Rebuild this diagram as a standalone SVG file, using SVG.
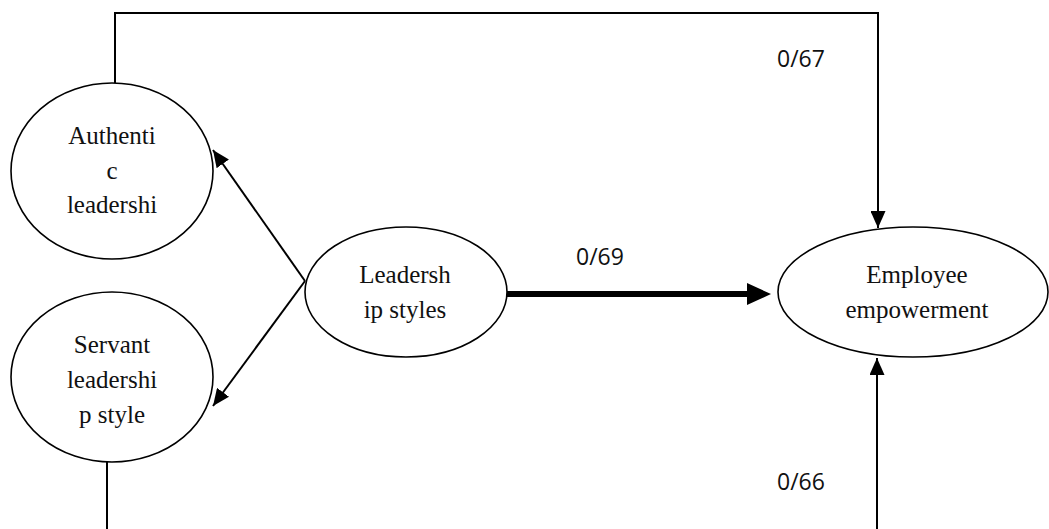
<svg xmlns="http://www.w3.org/2000/svg" width="1049" height="529" viewBox="0 0 1049 529">
  <style>
    .node ellipse { fill: #ffffff; stroke: #000000; stroke-width: 1.6; }
    .node text { font-family: "Liberation Serif", "Times New Roman", serif; font-size: 25px; fill: #111111; text-anchor: middle; }
    .link { fill: none; stroke: #000000; stroke-width: 2; }
    .link.bold { stroke-width: 6; }
    .weight { font-family: "Open Sans", "Liberation Sans", sans-serif; font-size: 23px; fill: #111111; }
  </style>
  <defs>
    <marker id="head" markerUnits="userSpaceOnUse" markerWidth="17" markerHeight="15" refX="17" refY="7.5" orient="auto">
      <path d="M0,0 L17,7.5 L0,15 Z" fill="#000000"/>
    </marker>
    <marker id="head-bold" markerUnits="userSpaceOnUse" markerWidth="24" markerHeight="24" refX="2" refY="12" orient="auto">
      <path d="M0,1 L24,12 L0,23 Z" fill="#000000"/>
    </marker>
  </defs>

  <g id="connectors">
    <!-- Authentic leadership -> Employee empowerment (over the top) -->
    <polyline class="link" points="115,83 115,13 878,13 878,228" marker-end="url(#head)"/>
    <!-- Servant leadership -> Employee empowerment (along the bottom) -->
    <line class="link" x1="107" y1="462" x2="107" y2="529"/>
    <polyline class="link" points="877,529 877,358" marker-end="url(#head)"/>
    <!-- Leadership styles -> its two dimensions -->
    <line class="link" x1="305" y1="281" x2="213" y2="150" marker-end="url(#head)"/>
    <line class="link" x1="305" y1="281" x2="213" y2="406" marker-end="url(#head)"/>
    <!-- Leadership styles -> Employee empowerment -->
    <line class="link bold" x1="507" y1="294" x2="749" y2="294" marker-end="url(#head-bold)"/>
    <text class="weight" x="777" y="67">0/67</text>
    <text class="weight" x="576" y="265">0/69</text>
    <text class="weight" x="777" y="490">0/66</text>
  </g>

  <g id="authentic" class="node">
    <ellipse cx="112" cy="171" rx="101" ry="88"/>
    <text x="112" y="144">Authenti</text>
    <text x="112" y="179">c</text>
    <text x="112" y="213">leadershi</text>
  </g>

  <g id="servant" class="node">
    <ellipse cx="112" cy="377" rx="101" ry="85"/>
    <text x="112" y="353">Servant</text>
    <text x="112" y="388">leadershi</text>
    <text x="112" y="423">p style</text>
  </g>

  <g id="leadership" class="node">
    <ellipse cx="406" cy="292" rx="101" ry="65"/>
    <text x="405" y="283">Leadersh</text>
    <text x="405" y="318">ip styles</text>
  </g>

  <g id="empowerment" class="node">
    <ellipse cx="913" cy="292" rx="135" ry="65"/>
    <text x="917" y="283">Employee</text>
    <text x="917" y="318">empowerment</text>
  </g>
</svg>
